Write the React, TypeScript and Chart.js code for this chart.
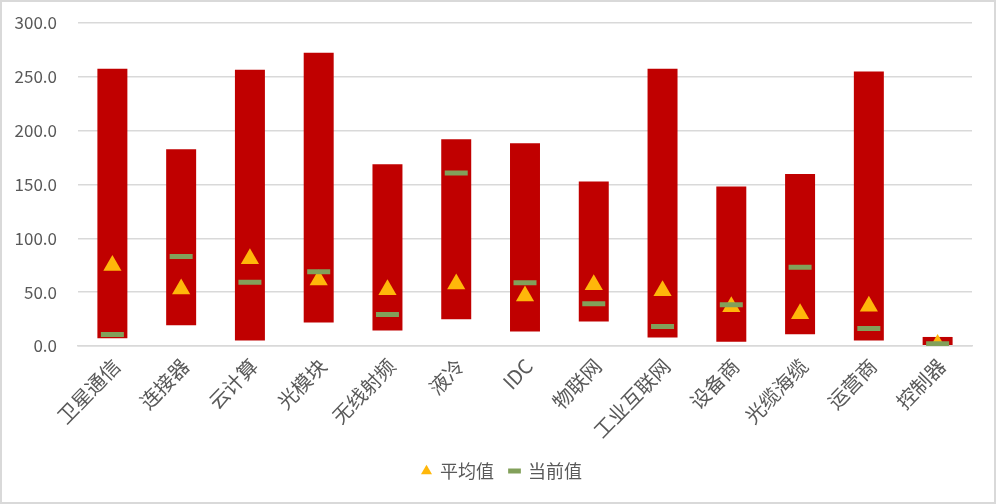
import React, { useEffect, useRef } from "react";
import { Chart, registerables } from "chart.js";

Chart.register(...registerables);

const categories = ["卫星通信", "连接器", "云计算", "光模块", "无线射频", "液冷", "IDC", "物联网", "工业互联网", "设备商", "光缆海缆", "运营商", "控制器"];
const rangeMin = [7.2, 19.3, 5.0, 21.8, 14.3, 24.9, 13.4, 22.7, 7.8, 4.0, 10.9, 5.0, 0.9];
const rangeMax = [257.4, 182.7, 256.5, 272.3, 168.7, 192.0, 188.3, 152.8, 257.4, 148.2, 159.7, 254.9, 8.4];
const averageValues = [74.7, 52.9, 81.0, 61.3, 52.3, 57.6, 46.4, 57.0, 51.4, 36.4, 29.9, 37.0, 1.5];
const currentValues = [10.6, 83.1, 59.1, 69.0, 29.2, 160.6, 58.8, 39.2, 18.0, 38.3, 73.1, 16.2, 2.1];
const seriesNames = ["区间", "平均值", "当前值"];

const FONT = "'Noto Sans CJK SC', 'Noto Sans', sans-serif";
const TEXT = "#595959";

export default function App() {
  const ref = useRef<HTMLCanvasElement | null>(null);

  useEffect(() => {
    document.body.style.margin = "0";
    if (!ref.current) return;
    const chart = new Chart(ref.current, {
      type: "bar",
      data: {
        labels: categories,
        datasets: [
          {
            type: "bar",
            label: seriesNames[0],
            data: rangeMin.map((v, i) => [v, rangeMax[i]]) as any,
            backgroundColor: "#C00000",
            borderWidth: 0,
            categoryPercentage: 1,
            barPercentage: 0.436,
            order: 2,
          },
          {
            type: "line",
            label: seriesNames[1],
            data: averageValues,
            showLine: false,
            pointStyle: "triangle",
            pointRadius: 10.5,
            pointHoverRadius: 10.5,
            pointBackgroundColor: "#FFB70A",
            pointBorderColor: "#FFB70A",
            pointBorderWidth: 0,
            backgroundColor: "#FFB70A",
            borderColor: "#FFB70A",
            order: 1,
          } as any,
          {
            type: "line",
            label: seriesNames[2],
            data: currentValues,
            showLine: false,
            pointStyle: "line",
            pointRadius: 11.5,
            pointHoverRadius: 11.5,
            pointBorderColor: "#82A05A",
            pointBackgroundColor: "#82A05A",
            pointBorderWidth: 5,
            backgroundColor: "#82A05A",
            borderColor: "#82A05A",
            order: 0,
          } as any,
        ],
      },
      options: {
        animation: false,
        responsive: false,
        maintainAspectRatio: false,
        layout: { padding: { top: 23, right: 0, bottom: 14, left: 8 } },
        plugins: {
          tooltip: { enabled: false },
          legend: {
            position: "bottom",
            labels: {
              usePointStyle: true,
              boxHeight: 9,
              boxWidth: 9,
              padding: 16,
              color: TEXT,
              font: { family: FONT, size: 18 },
              filter: (item: any) => item.datasetIndex !== 0,
              sort: (a: any, b: any) => a.datasetIndex - b.datasetIndex,
            },
          },
        },
        scales: {
          x: {
            grid: { display: false, drawTicks: false },
            border: { display: true, color: "#D9D9D9", width: 1.5 },
            ticks: {
              color: TEXT,
              font: { family: FONT, size: 20 },
              minRotation: 46,
              maxRotation: 46,
              padding: 8,
              labelOffset: 4,
              autoSkip: false,
            },
            afterFit: (s: any) => {
              s.height = 100;
              s.paddingLeft = 0;
              s.paddingRight = 0;
            },
          },
          y: {
            min: 0,
            max: 300,
            grid: { color: "#D9D9D9", lineWidth: 1.5, drawTicks: false },
            border: { display: false },
            ticks: {
              stepSize: 50,
              color: TEXT,
              padding: 21,
              font: { family: FONT, size: 17 },
              callback: (v: any) => Number(v).toFixed(1),
            },
            afterFit: (s: any) => {
              s.width = 70;
              s.paddingTop = 0;
              s.paddingBottom = 0;
            },
          },
          yRightGap: {
            type: "linear",
            position: "right",
            display: true,
            grid: { display: false, drawTicks: false },
            border: { display: false },
            ticks: { display: false },
            afterFit: (s: any) => {
              s.width = 24;
              s.paddingTop = 0;
              s.paddingBottom = 0;
            },
          },
        },
      },
    });
    return () => chart.destroy();
  }, []);

  return (
    <div style={{ position: "relative", width: 996, height: 504, background: "#fff" }}>
      <canvas ref={ref} width={996} height={504} style={{ display: "block" }} />
      <div
        style={{
          position: "absolute",
          left: 0,
          top: 0,
          width: 996,
          height: 504,
          boxSizing: "border-box",
          border: "2px solid #D9D9D9",
          pointerEvents: "none",
        }}
      />
    </div>
  );
}
